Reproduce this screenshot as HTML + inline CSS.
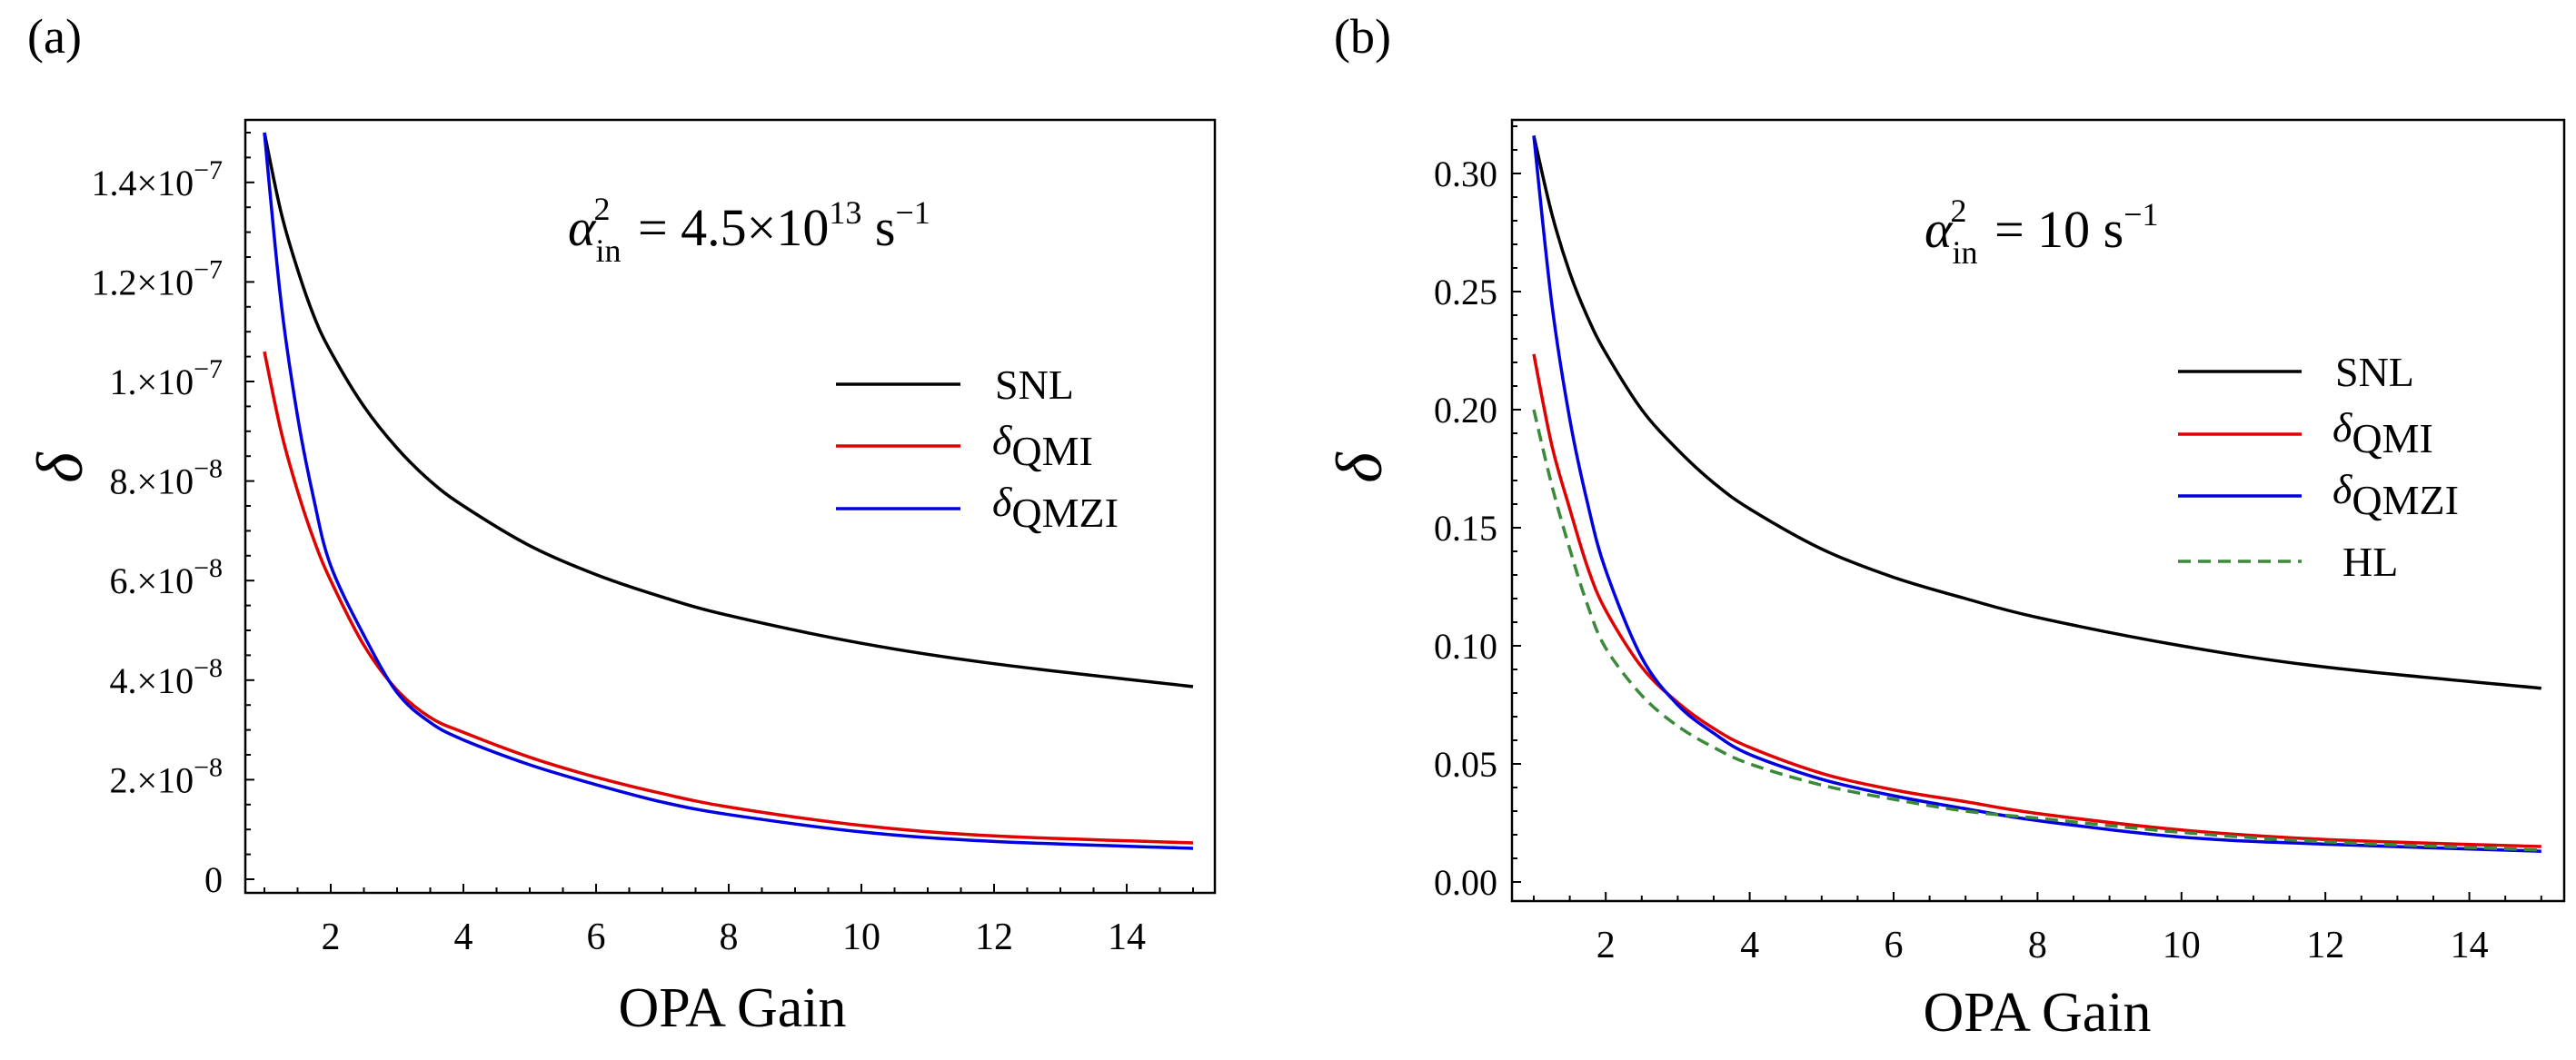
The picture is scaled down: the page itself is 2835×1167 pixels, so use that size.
<!DOCTYPE html>
<html><head><meta charset="utf-8"><style>
body{margin:0;background:#fff}
svg{display:block;font-family:"Liberation Serif",serif}
</style></head><body>
<svg id="fig" width="2835" height="1167" viewBox="0 0 2835 1167" xmlns="http://www.w3.org/2000/svg"></svg>
<script>
const gains = [1,1.25,1.5,1.75,2,2.5,3,3.5,4,5,6,7,8,10,12,15];
// panel (a) values in units of 1e-8
const aSNL = [15,13.4,12.25,11.3,10.6,9.5,8.66,8.0,7.5,6.7,6.12,5.67,5.3,4.74,4.33,3.87];
const aQMI = [10.6,9.0,7.8,6.8,6.0,4.7,3.8,3.25,2.95,2.45,2.05,1.72,1.45,1.08,0.87,0.73];
const aQMZI = [15,11.6,9.3,7.6,6.3,4.9,3.75,3.15,2.8,2.3,1.9,1.55,1.3,0.95,0.76,0.62];
// panel (b) values
const bSNL = [0.316,0.283,0.258,0.239,0.224,0.200,0.183,0.169,0.158,0.141,0.129,0.120,0.112,0.100,0.091,0.082];
const bQMI = [0.2235,0.185,0.158,0.133,0.115,0.091,0.076,0.065,0.057,0.046,0.039,0.034,0.029,0.022,0.018,0.015];
const bQMZI = [0.316,0.245,0.196,0.160,0.132,0.095,0.075,0.063,0.054,0.0435,0.0365,0.031,0.026,0.019,0.016,0.013];
const bHL = [0.200,0.168,0.141,0.117,0.099,0.079,0.066,0.057,0.050,0.041,0.035,0.030,0.027,0.021,0.017,0.0135];
const xTicks = [2,4,6,8,10,12,14];
const aYTicks = [0,2,4,6,8,10,12,14];
const aYLabels = ["0","2.×10","4.×10","6.×10","8.×10","1.×10","1.2×10","1.4×10"];
const aYExp = ["","−8","−8","−8","−8","−7","−7","−7"];
const bYTicks = [0,0.05,0.10,0.15,0.20,0.25,0.30];
const bYLabels = ["0.00","0.05","0.10","0.15","0.20","0.25","0.30"];

const NS="http://www.w3.org/2000/svg";
const svg=document.getElementById('fig');
function mk(tag,attrs,parent){const e=document.createElementNS(NS,tag);for(const k in attrs)e.setAttribute(k,attrs[k]);(parent||svg).appendChild(e);return e;}
function smooth(pts){
  let d='M'+pts[0][0].toFixed(1)+','+pts[0][1].toFixed(1);
  for(let i=0;i<pts.length-1;i++){
    const p0=pts[Math.max(0,i-1)],p1=pts[i],p2=pts[i+1],p3=pts[Math.min(pts.length-1,i+2)];
    const c1=[p1[0]+(p2[0]-p0[0])/6,p1[1]+(p2[1]-p0[1])/6];
    const c2=[p2[0]-(p3[0]-p1[0])/6,p2[1]-(p3[1]-p1[1])/6];
    d+=' C'+c1[0].toFixed(1)+','+c1[1].toFixed(1)+' '+c2[0].toFixed(1)+','+c2[1].toFixed(1)+' '+p2[0].toFixed(1)+','+p2[1].toFixed(1);
  }
  return d;
}

function panel(cfg){
  const g=mk('g',{});
  
  
  const X=v=>cfg.x1+(v-1)*cfg.xs;
  const Y=v=>cfg.y0-(v-cfg.ymin)*cfg.ys;
  const fr=mk('rect',{x:cfg.L,y:cfg.T,width:cfg.R-cfg.L,height:cfg.B-cfg.T,fill:'none',stroke:'#000','stroke-width':2.5},g);
  
  
  for(let v=1;v<=15.01;v+=0.5){
    const maj=Math.abs(v-Math.round(v))<1e-6&&Math.round(v)%2===0;
    mk('line',{x1:X(v),x2:X(v),y1:cfg.B,y2:cfg.B-(maj?10:6),stroke:'#000','stroke-width':2},g);
  }
  xTicks.forEach(t=>{const tx=mk('text',{x:X(t),y:cfg.B+62,'font-size':42,'text-anchor':'middle'},g);tx.textContent=t;
    
    });
  for(let v=cfg.ymin;v<=cfg.ymaxTick+1e-9;v+=cfg.minor){
    const yy=Y(v); if(yy<cfg.T) continue;
    const maj=Math.abs((v/cfg.major)-Math.round(v/cfg.major))<1e-6;
    mk('line',{x1:cfg.L,x2:cfg.L+(maj?10:6),y1:yy,y2:yy,stroke:'#000','stroke-width':2},g);
  }
  cfg.yt.forEach((t,i)=>{
    const tx=mk('text',{x:cfg.labelX,y:Y(t)+14,'font-size':40,'text-anchor':'end'},g);
    tx.textContent=cfg.yl[i];
    
    
    if(cfg.ye&&cfg.ye[i]){const sp=mk('tspan',{dy:-18,'font-size':30},tx);sp.textContent=cfg.ye[i];}
  });
  cfg.series.forEach(s=>{
    const pts=gains.map((gv,i)=>[X(gv),Y(s.v[i])]);
    const p=mk('path',{d:smooth(pts),fill:'none',stroke:s.c,'stroke-width':3.5,'stroke-dasharray':s.dash||'none'},g);
    
    
  });
  return g;
}
panel({name:'panel-a',L:270,R:1337,T:132,B:983,x1:291,xs:73,y0:968,ymin:0,ys:109.6/2,minor:0.5,major:2,ymaxTick:15.5,
  yt:aYTicks,yl:aYLabels,ye:aYExp,labelX:245,
  series:[{n:'snl-line-a',c:'#000',v:aSNL},{n:'qmi-line-a',c:'#e00000',v:aQMI},{n:'qmzi-line-a',c:'#0000e0',v:aQMZI}]});
panel({name:'panel-b',L:1664,R:2822,T:132,B:992,x1:1688,xs:79.2,y0:971,ymin:0,ys:2600,minor:0.01,major:0.05,ymaxTick:0.32,
  yt:bYTicks,yl:bYLabels,labelX:1648,
  series:[{n:'snl-line-b',c:'#000',v:bSNL},{n:'qmi-line-b',c:'#e00000',v:bQMI},{n:'qmzi-line-b',c:'#0000e0',v:bQMZI},{n:'hl-line-b',c:'#3a8a3a',v:bHL,dash:'14 8'}]});
</script>
<svg width="2835" height="1167" style="position:absolute;left:0;top:0" xmlns="http://www.w3.org/2000/svg" font-family="Liberation Serif, serif">
<text x="30" y="58" font-size="54">(a)</text>
<text x="1468" y="58" font-size="54">(b)</text>
<text x="70" y="535" font-size="72" font-style="italic" transform="rotate(-90 70 515)" text-anchor="middle">δ</text>
<text x="1500" y="535" font-size="72" font-style="italic" transform="rotate(-90 1500 515)" text-anchor="middle">δ</text>
<text x="806" y="1130" font-size="62" text-anchor="middle">OPA Gain</text>
<text x="2242" y="1135" font-size="62" text-anchor="middle">OPA Gain</text>
<text x="625" y="270" font-size="58"><tspan font-style="italic">α</tspan><tspan font-size="36" dy="18">in</tspan><tspan font-size="36" dx="-30" dy="-46">2</tspan><tspan dy="28" dx="16"> = 4.5×10</tspan><tspan font-size="36" dy="-24">13</tspan><tspan dy="24">  s</tspan><tspan font-size="36" dy="-24">−1</tspan></text>
<text x="2118" y="272" font-size="58"><tspan font-style="italic">α</tspan><tspan font-size="36" dy="18">in</tspan><tspan font-size="36" dx="-30" dy="-46">2</tspan><tspan dy="28" dx="16"> = 10 s</tspan><tspan font-size="36" dy="-24">−1</tspan></text>
<g>
<line x1="920" y1="423" x2="1057" y2="423" stroke="#000" stroke-width="3.5"/><text x="1095" y="439" font-size="46">SNL</text>
<line x1="920" y1="491" x2="1057" y2="491" stroke="#e00000" stroke-width="3.5"/><text x="1092" y="500" font-size="46"><tspan font-style="italic">δ</tspan><tspan dy="12">QMI</tspan></text>
<line x1="920" y1="560" x2="1057" y2="560" stroke="#0000e0" stroke-width="3.5"/><text x="1092" y="568" font-size="46"><tspan font-style="italic">δ</tspan><tspan dy="12">QMZI</tspan></text>
</g>
<g>
<line x1="2397" y1="409" x2="2533" y2="409" stroke="#000" stroke-width="3.5"/><text x="2570" y="425" font-size="46">SNL</text>
<line x1="2397" y1="478" x2="2533" y2="478" stroke="#e00000" stroke-width="3.5"/><text x="2567" y="486" font-size="46"><tspan font-style="italic">δ</tspan><tspan dy="12">QMI</tspan></text>
<line x1="2397" y1="546" x2="2533" y2="546" stroke="#0000e0" stroke-width="3.5"/><text x="2567" y="554" font-size="46"><tspan font-style="italic">δ</tspan><tspan dy="12">QMZI</tspan></text>
<line x1="2397" y1="618" x2="2533" y2="618" stroke="#3a8a3a" stroke-width="3.5" stroke-dasharray="14 8"/><text x="2578" y="634" font-size="46">HL</text>
</g>
</svg>
</body></html>
